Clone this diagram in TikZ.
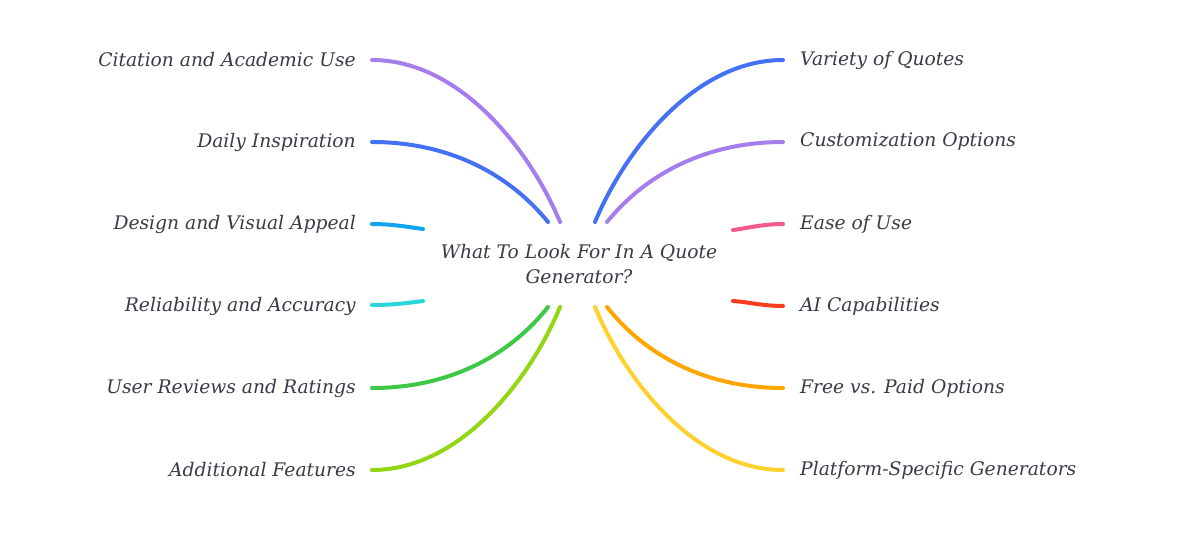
\documentclass[tikz,border=0pt]{standalone}
\usepackage{fontspec}
\setmainfont{DejaVu Serif}
\begin{document}
\begin{tikzpicture}[x=1pt,y=-1pt,
  lbl/.style={font=\itshape\fontsize{18.7}{22}\selectfont, text=textc, inner sep=0pt},
  lleft/.style={lbl, anchor=east},
  lright/.style={lbl, anchor=west},
  branch/.style={line width=4pt, line cap=round}]
\definecolor{textc}{HTML}{3A3A48}
\definecolor{cpurple}{HTML}{A57EEE}
\definecolor{cblue}{HTML}{4471F4}
\definecolor{ccyan}{HTML}{0EA5EE}
\definecolor{cteal}{HTML}{2AD6DC}
\definecolor{cgreen}{HTML}{3DC846}
\definecolor{clime}{HTML}{92D614}
\definecolor{cpink}{HTML}{F25A8C}
\definecolor{cred}{HTML}{FA3C1E}
\definecolor{corange}{HTML}{FFA600}
\definecolor{cyellow}{HTML}{FFD12E}
\useasboundingbox[fill=white] (0,0) rectangle (1181,543);
\node[lbl, align=center, font=\itshape\fontsize{18.7}{24.5}\selectfont] (c) at (579,264) {What To Look For In A Quote\\Generator?};
% left labels
\node[lleft] (l1) at (356,60) {Citation and Academic Use};
\node[lleft] (l2) at (356,142) {Daily Inspiration};
\node[lleft] (l3) at (356,224) {Design and Visual Appeal};
\node[lleft] (l4) at (356,306) {Reliability and Accuracy};
\node[lleft] (l5) at (356,388) {User Reviews and Ratings};
\node[lleft] (l6) at (356,470) {Additional Features};
% right labels
\node[lright] (r1) at (800,60) {Variety of Quotes};
\node[lright] (r2) at (800,142) {Customization Options};
\node[lright] (r3) at (800,224) {Ease of Use};
\node[lright] (r4) at (800,306) {AI Capabilities};
\node[lright] (r5) at (800,388) {Free vs. Paid Options};
\node[lright] (r6) at (800,470) {Platform-Specific Generators};
% anchor coordinates
\coordinate (a1) at (372,60);  \coordinate (b1) at (560,222);
\coordinate (a2) at (372,142); \coordinate (b2) at (548,222);
\coordinate (a3) at (372,224); \coordinate (b3) at (423,229);
\coordinate (a4) at (372,305); \coordinate (b4) at (423,301);
\coordinate (a5) at (372,388); \coordinate (b5) at (548,307);
\coordinate (a6) at (372,470); \coordinate (b6) at (560,307);
\coordinate (e1) at (783,60);  \coordinate (f1) at (595,222);
\coordinate (e2) at (783,142); \coordinate (f2) at (607,222);
\coordinate (e3) at (783,224); \coordinate (f3) at (733,230);
\coordinate (e4) at (783,306); \coordinate (f4) at (733,301);
\coordinate (e5) at (783,388); \coordinate (f5) at (607,307);
\coordinate (e6) at (783,470); \coordinate (f6) at (595,307);
\draw[branch, cpurple] (a1) .. controls (460,60) and (530,150) .. (b1);
\draw[branch, cblue]   (a2) .. controls (450,142) and (510,175) .. (b2);
\draw[branch, ccyan]   (a3) .. controls (392,224) and (408,227) .. (b3);
\draw[branch, cteal]   (a4) .. controls (392,305) and (408,303) .. (b4);
\draw[branch, cgreen]  (a5) .. controls (450,388) and (510,355) .. (b5);
\draw[branch, clime]   (a6) .. controls (460,470) and (530,380) .. (b6);
\draw[branch, cblue]   (e1) .. controls (695,60) and (625,150) .. (f1);
\draw[branch, cpurple] (e2) .. controls (705,142) and (645,175) .. (f2);
\draw[branch, cpink]   (e3) .. controls (763,224) and (748,228) .. (f3);
\draw[branch, cred]    (e4) .. controls (763,306) and (748,302) .. (f4);
\draw[branch, corange] (e5) .. controls (705,388) and (645,355) .. (f5);
\draw[branch, cyellow] (e6) .. controls (695,470) and (625,380) .. (f6);
\end{tikzpicture}
\end{document}
